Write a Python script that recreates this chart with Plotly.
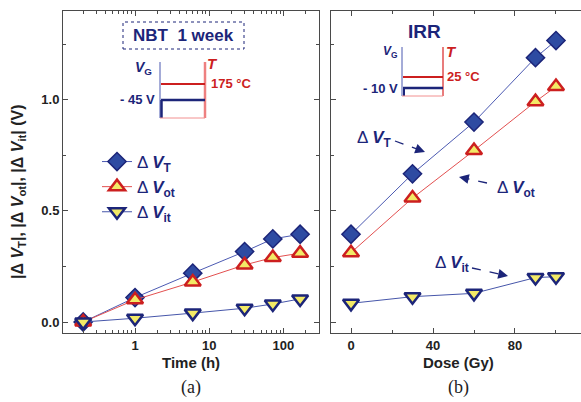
import math
import plotly.graph_objects as go
from plotly.subplots import make_subplots

# ---------------- data ----------------
time_h = [0.2, 1, 6, 30, 72, 168]
nbt_dVT = [0.0, 0.11, 0.22, 0.317, 0.374, 0.395]
nbt_dVot = [0.0, 0.10, 0.18, 0.257, 0.29, 0.31]
nbt_dVit = [0.0, 0.017, 0.04, 0.062, 0.081, 0.104]

dose_gy = [0, 30, 60, 90, 100]
irr_dVT = [0.395, 0.667, 0.90, 1.19, 1.267]
irr_dVot = [0.312, 0.558, 0.772, 0.992, 1.06]
irr_dVit = [0.084, 0.114, 0.129, 0.20, 0.204]

y_ticks = [0.0, 0.5, 1.0]
y_tick_text = ["0.0", "0.5", "1.0"]
time_ticks = [1, 10, 100]
time_tick_text = ["1", "10", "100"]
dose_ticks = [0, 40, 80]
dose_tick_text = ["0", "40", "80"]

# ---------------- styling ----------------
W, H = 581, 402
NAVY = "#1c2579"
BLUE_FILL = "#2e4ba2"
RED = "#cc1f1f"
YELLOW = "#f3ea66"
FONT = "Liberation Sans, Arial, sans-serif"
AX = "#4a4a4a"


def px(x):
    return x / W


def py(y):
    return 1 - y / H


def bold(labels):
    return ["<b>" + s + "</b>" for s in labels]


fig = make_subplots(rows=1, cols=2, shared_yaxes=False, horizontal_spacing=0.02)

series = [
    ("Δ <b><i>V</i><sub>T</sub></b>", nbt_dVT, irr_dVT,
     dict(symbol="diamond", size=14, color=BLUE_FILL, line=dict(color=NAVY, width=1.5)), "#4c5ab2"),
    ("Δ <b><i>V</i><sub>ot</sub></b>", nbt_dVot, irr_dVot,
     dict(symbol="triangle-up", size=14, color=YELLOW, line=dict(color=RED, width=2.5)), "#e35050"),
    ("Δ <b><i>V</i><sub>it</sub></b>", nbt_dVit, irr_dVit,
     dict(symbol="triangle-down", size=14, color=YELLOW, line=dict(color=NAVY, width=2.5)), "#4656aa"),
]

for name, left_vals, right_vals, mk, lc in series:
    fig.add_trace(go.Scatter(x=time_h, y=left_vals, mode="lines+markers", name=name,
                             line=dict(color=lc, width=1), marker=mk, showlegend=True),
                  row=1, col=1)
    fig.add_trace(go.Scatter(x=dose_gy, y=right_vals, mode="lines+markers", name=name,
                             line=dict(color=lc, width=1), marker=mk, showlegend=False),
                  row=1, col=2)

ydom = [py(333), py(11)]
yr = [-0.0495, 1.40]
tickfont = dict(family=FONT, size=13, color="#222222")

fig.update_layout(
    width=W, height=H, margin=dict(l=0, r=0, t=0, b=0),
    paper_bgcolor="white", plot_bgcolor="white",
    font=dict(family=FONT),
    xaxis=dict(domain=[px(63), px(319)], type="log", range=[-0.971, 2.48],
               tickvals=time_ticks, ticktext=bold(time_tick_text), ticks="inside", ticklen=5,
               tickcolor=AX, showline=True, linecolor=AX, linewidth=1, mirror="allticks",
               showgrid=False, zeroline=False, tickfont=tickfont,
               minor=dict(ticks="inside", ticklen=3, tickcolor=AX,
                          tickvals=[0.2, 0.3, 0.4, 0.5, 0.6, 0.7, 0.8, 0.9,
                                    2, 3, 4, 5, 6, 7, 8, 9,
                                    20, 30, 40, 50, 60, 70, 80, 90, 200])),
    yaxis=dict(domain=ydom, range=yr, tickvals=y_ticks, ticktext=bold(y_tick_text),
               ticks="inside", ticklen=5, tickcolor=AX, showline=True, linecolor=AX,
               linewidth=1, mirror="allticks", showgrid=False, zeroline=False,
               tickfont=tickfont,
               minor=dict(ticks="inside", ticklen=3, tickcolor=AX, tickvals=[0.25, 0.75, 1.25])),
    xaxis2=dict(domain=[px(331), 1.0], range=[-9.76, 112.2],
                tickvals=dose_ticks, ticktext=bold(dose_tick_text), ticks="inside", ticklen=5,
                tickcolor=AX, showline=True, linecolor=AX, linewidth=1, mirror="allticks",
                showgrid=False, zeroline=False, tickfont=tickfont,
                minor=dict(ticks="inside", ticklen=3, tickcolor=AX, tickvals=[20, 60, 100])),
    yaxis2=dict(domain=ydom, range=yr, tickvals=y_ticks, showticklabels=False,
                ticks="inside", ticklen=5, tickcolor=AX, showline=True, linecolor=AX,
                linewidth=1, mirror=False, showgrid=False, zeroline=False,
                minor=dict(ticks="inside", ticklen=3, tickcolor=AX, tickvals=[0.25, 0.75, 1.25])),
    legend=dict(x=px(97), y=py(144), xanchor="left", yanchor="top",
                bgcolor="rgba(0,0,0,0)", itemwidth=30, tracegroupgap=0,
                font=dict(family=FONT, size=17, color=NAVY)),
)

ann = []
shapes = []


def text(x, y, t, size, color=NAVY, xanchor="center", family=FONT, angle=0):
    ann.append(dict(x=px(x), y=py(y), xref="paper", yref="paper", text=t, showarrow=False,
                    xanchor=xanchor, yanchor="middle", textangle=angle,
                    font=dict(family=family, size=size, color=color)))


def line(x0, y0, x1, y1, color, width, dash="solid"):
    shapes.append(dict(type="line", xref="paper", yref="paper", x0=px(x0), y0=py(y0),
                       x1=px(x1), y1=py(y1), line=dict(color=color, width=width, dash=dash)))


def arrow(x0, y0, x1, y1):
    dx, dy = x1 - x0, y1 - y0
    L = math.hypot(dx, dy)
    ux, uy = dx / L, dy / L
    line(x0, y0, x1 - ux * 6, y1 - uy * 6, NAVY, 1.3, "dash")
    ann.append(dict(x=px(x1), y=py(y1), xref="paper", yref="paper", text=" ", showarrow=True,
                    ax=-ux * 8, ay=-uy * 8, arrowhead=2, arrowsize=1.4, arrowwidth=1.4,
                    arrowcolor=NAVY, font=dict(size=2)))


# axis titles and panel labels
text(18, 192, "<b>|Δ <i>V</i><sub>T</sub>|, |Δ <i>V</i><sub>ot</sub>|, |Δ <i>V</i><sub>it</sub>| (V)</b>",
     16, color="#222222", angle=-90)
text(191, 362, "<b>Time (h)</b>", 15, color="#222222")
text(458, 362, "<b>Dose (Gy)</b>", 15, color="#222222")
text(191, 387, "(a)", 18, color="#222222", family="Liberation Serif, serif")
text(458, 387, "(b)", 18, color="#222222", family="Liberation Serif, serif")

# NBT inset
shapes.append(dict(type="rect", xref="paper", yref="paper", x0=px(123), y0=py(49),
                   x1=px(244), y1=py(22), line=dict(color=NAVY, width=1, dash="dot")))
text(183, 35, "<b>NBT  1 week</b>", 17)
line(160, 62, 160, 118, "#4a58b0", 1)
line(205, 62, 205, 118, "#ee8080", 2.5)
line(161, 84, 205, 84, RED, 2)
line(161, 100, 205, 100, NAVY, 2.5)
line(161.5, 100, 161.5, 118, NAVY, 2.5)
line(160, 118, 205, 118, "#f29090", 1)
text(143, 68, "<b><i>V</i><sub>G</sub></b>", 14)
text(213, 64, "<b><i>T</i></b>", 15, color=RED)
text(209, 83, "<b>175 °C</b>", 13, color=RED, xanchor="left")
text(157, 100, "<b>- 45 V</b>", 13, xanchor="right")

# IRR inset
text(424, 32, "<b>IRR</b>", 19)
line(402, 47, 402, 96, "#4a58b0", 1)
line(443, 47, 443, 96, "#e05050", 1.5)
line(403, 77, 443, 77, RED, 2)
line(403, 88, 443, 88, NAVY, 2.5)
line(404, 88, 404, 96, NAVY, 2)
line(402, 96, 443, 96, "#f29090", 1)
text(390, 52, "<b><i>V</i><sub>G</sub></b>", 12)
text(451, 52, "<b><i>T</i></b>", 15, color=RED)
text(445, 77, "<b>25 °C</b>", 13, color=RED, xanchor="left")
text(400, 88, "<b>- 10 V</b>", 13, xanchor="right")

# right panel labels with arrows
text(374, 139, "Δ <b><i>V</i><sub>T</sub></b>", 17)
arrow(395, 141, 425, 152)
text(516, 189, "Δ <b><i>V</i><sub>ot</sub></b>", 17)
arrow(487, 183, 459, 177)
text(452, 264, "Δ <b><i>V</i><sub>it</sub></b>", 17)
arrow(472, 268, 508, 276)

fig.update_layout(annotations=ann, shapes=shapes)
fig.write_html("out.html")
